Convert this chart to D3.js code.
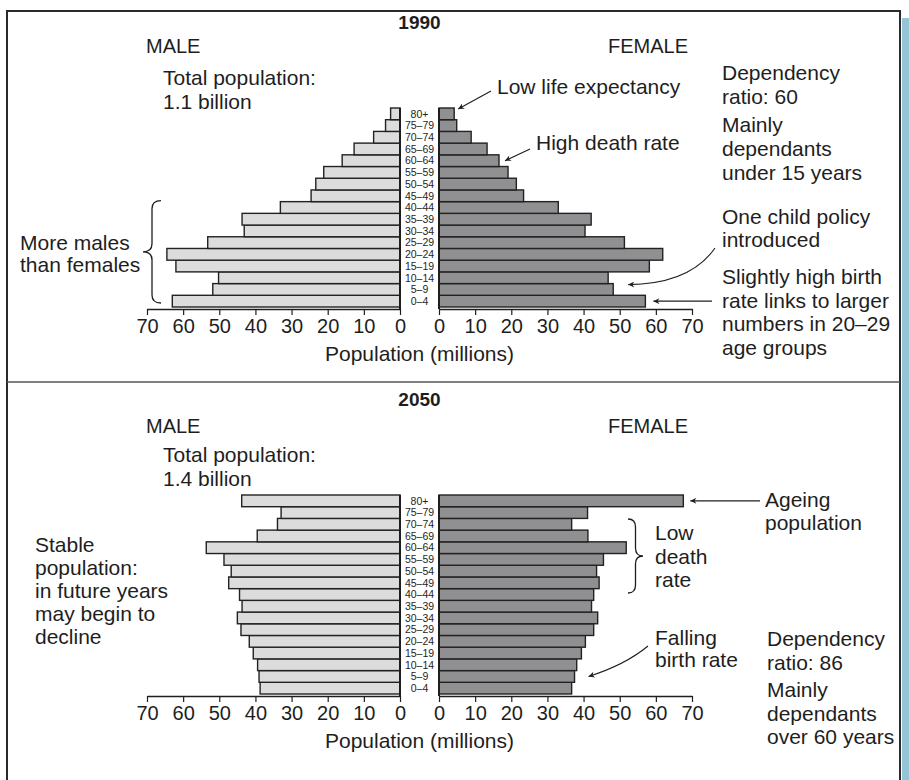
<!DOCTYPE html>
<html>
<head>
<meta charset="utf-8">
<script src="https://d3js.org/d3.v7.min.js"></script>
<style>
  body { margin: 0; background: #fff; }
  text { font-family: "Liberation Sans", Arial, Helvetica, sans-serif; fill: #1e1e1e; }
</style>
</head>
<body>
<div id="chart"></div>
<script>
// values, millions, youngest group first
var ages = ["0–4", "5–9", "10–14", "15–19", "20–24", "25–29", "30–34", "35–39", "40–44",
  "45–49", "50–54", "55–59", "60–64", "65–69", "70–74", "75–79", "80+"];
var male1990 = [63.0, 51.8, 50.2, 62.0, 64.5, 53.2, 43.1, 43.7, 33.1, 24.6, 23.3, 21.1, 16.0, 12.7, 7.3, 4.0, 2.6];
var female1990 = [57.1, 48.2, 46.8, 58.2, 61.9, 51.3, 40.4, 42.1, 33.0, 23.4, 21.4, 19.1, 16.6, 13.3, 8.9, 4.9, 4.2];
var male2050 = [38.7, 39.0, 39.4, 40.6, 41.7, 44.0, 45.0, 43.7, 44.4, 47.4, 46.7, 48.7, 53.6, 39.5, 33.9, 32.9, 43.8];
var female2050 = [36.7, 37.5, 38.1, 39.4, 40.5, 42.8, 43.9, 42.2, 42.8, 44.3, 43.6, 45.5, 51.8, 41.2, 36.7, 41.1, 67.6];
var tickValues = [0, 10, 20, 30, 40, 50, 60, 70];

var svgWidth = 909;
var svgHeight = 780;

var svg = d3.select("#chart")
  .append("svg")
  .attr("width", svgWidth)
  .attr("height", svgHeight);

// arrow head
svg.append("defs").append("marker")
  .attr("id", "arrow")
  .attr("viewBox", "0 0 10 10")
  .attr("refX", 10)
  .attr("refY", 5)
  .attr("markerUnits", "userSpaceOnUse")
  .attr("markerWidth", 10)
  .attr("markerHeight", 6)
  .attr("orient", "auto")
  .append("path")
  .attr("d", "M0,0 L10,5 L0,10 L3,5 Z")
  .attr("fill", "#1e1e1e");

// frame
svg.append("rect")
  .attr("x", 902).attr("y", 18)
  .attr("width", 7).attr("height", 762)
  .attr("fill", "#94c4d6");
svg.append("path")
  .attr("d", "M7,782 L7,11 L900,11 L900,782")
  .attr("fill", "none")
  .attr("stroke", "#2a2a2a")
  .attr("stroke-width", 2);
svg.append("line")
  .attr("x1", 7).attr("x2", 900)
  .attr("y1", 382).attr("y2", 382)
  .attr("stroke", "#555")
  .attr("stroke-width", 1.5);

var xMale = d3.scaleLinear().domain([0, 70]).range([400, 147]);
var xFemale = d3.scaleLinear().domain([0, 70]).range([439, 692]);

function drawPyramid(top, males, females) {
  var g = svg.append("g");
  var y = d3.scaleBand()
    .domain(ages.slice().reverse())
    .range([top, top + 199])
    .padding(0);
  var axisY = top + 201;

  g.selectAll(".male")
    .data(males)
    .enter()
    .append("rect")
    .attr("x", d => xMale(d))
    .attr("y", (d, i) => y(ages[i]))
    .attr("width", d => xMale(0) - xMale(d))
    .attr("height", y.bandwidth())
    .attr("fill", "#dcdcdc")
    .attr("stroke", "#222")
    .attr("stroke-width", 1.4);

  g.selectAll(".female")
    .data(females)
    .enter()
    .append("rect")
    .attr("x", xFemale(0))
    .attr("y", (d, i) => y(ages[i]))
    .attr("width", d => xFemale(d) - xFemale(0))
    .attr("height", y.bandwidth())
    .attr("fill", "#909092")
    .attr("stroke", "#222")
    .attr("stroke-width", 1.4);

  // zero lines
  [xMale(0), xFemale(0)].forEach(function(x) {
    g.append("line")
      .attr("x1", x).attr("x2", x)
      .attr("y1", top).attr("y2", axisY)
      .attr("stroke", "#1e1e1e")
      .attr("stroke-width", 2);
  });

  // age labels
  g.selectAll(".age")
    .data(ages)
    .enter()
    .append("text")
    .attr("x", 419.5)
    .attr("y", d => y(d) + y.bandwidth() / 2)
    .attr("dy", "0.36em")
    .attr("text-anchor", "middle")
    .style("font-size", "10.5px")
    .text(d => d);

  // axes
  [xMale, xFemale].forEach(function(scale) {
    var ax = g.append("g")
      .attr("transform", `translate(0, ${axisY})`)
      .call(d3.axisBottom(scale).tickValues(tickValues).tickSize(6).tickSizeOuter(0));
    ax.select(".domain").attr("stroke", "#1e1e1e").attr("stroke-width", 1.6);
    ax.selectAll(".tick line").attr("stroke", "#1e1e1e").attr("stroke-width", 1.2);
    ax.selectAll(".tick text")
      .attr("y", 24)
      .attr("dy", 0)
      .style("font-size", "20px")
      .style("font-family", "'Liberation Sans', Arial, sans-serif")
      .attr("fill", "#1e1e1e");
  });

  g.append("text")
    .attr("x", 419.5)
    .attr("y", axisY + 52)
    .attr("text-anchor", "middle")
    .style("font-size", "21px")
    .text("Population (millions)");

  return y;
}

var yTop = drawPyramid(108, male1990, female1990);
var yBot = drawPyramid(495, male2050, female2050);

// text block: x, first baseline, lines, line gap, size, weight, anchor
function label(x, y0, lines, gap, size, weight, anchor) {
  var t = svg.append("text")
    .attr("x", x)
    .attr("y", y0)
    .attr("text-anchor", anchor || "start")
    .style("font-size", size + "px")
    .style("font-weight", weight || "normal");
  lines.forEach(function(l, i) {
    t.append("tspan").attr("x", x).attr("y", y0 + i * gap).text(l);
  });
}

// 1990 panel
label(419.5, 29, ["1990"], 0, 19, "bold", "middle");
label(146, 53, ["MALE"], 0, 20);
label(608, 53, ["FEMALE"], 0, 20);
label(163, 85, ["Total population:", "1.1 billion"], 24, 21);
label(497, 94, ["Low life expectancy"], 0, 21);
label(536, 150, ["High death rate"], 0, 21);
label(722, 80, ["Dependency", "ratio: 60"], 24, 21);
label(722, 132, ["Mainly", "dependants", "under 15 years"], 24, 21);
label(722, 224, ["One child policy", "introduced"], 23, 21);
label(722, 284, ["Slightly high birth", "rate links to larger", "numbers in 20–29", "age groups"], 23.5, 21);
label(20, 250, ["More males", "than females"], 22, 21);

// 2050 panel
label(419.5, 406, ["2050"], 0, 19, "bold", "middle");
label(146, 433, ["MALE"], 0, 20);
label(608, 433, ["FEMALE"], 0, 20);
label(163, 462, ["Total population:", "1.4 billion"], 24, 21);
label(765, 507, ["Ageing", "population"], 23, 21);
label(655, 540, ["Low", "death", "rate"], 23.5, 21);
label(35, 552, ["Stable", "population:", "in future years", "may begin to", "decline"], 23, 21);
label(655, 645, ["Falling", "birth rate"], 22, 21);
label(767, 646, ["Dependency", "ratio: 86"], 23.5, 21);
label(767, 697, ["Mainly", "dependants", "over 60 years"], 23.5, 21);

// arrows
function arrow(d) {
  svg.append("path")
    .attr("d", d)
    .attr("fill", "none")
    .attr("stroke", "#1e1e1e")
    .attr("stroke-width", 1.1)
    .attr("marker-end", "url(#arrow)");
}
var rowMid = (y, a) => y(a) + y.bandwidth() / 2;
arrow(`M491,91 L${xFemale(female1990[16]) + 4},${yTop("80+") + 1}`);
arrow(`M530,149 L${xFemale(female1990[12]) + 6},${rowMid(yTop, "60–64")}`);
arrow(`M715,248 Q690,284 ${xFemale(female1990[1]) + 15},${yTop("5–9") + 1}`);
arrow(`M712,${rowMid(yTop, "0–4")} L${xFemale(female1990[0]) + 8},${rowMid(yTop, "0–4")}`);
arrow(`M760,${rowMid(yBot, "80+")} L${xFemale(female2050[16]) + 7},${rowMid(yBot, "80+")}`);
arrow(`M648,646 Q625,665 ${xFemale(female2050[1]) + 14},${rowMid(yBot, "5–9")}`);

// braces
function brace(xe, y1, y2, w) {
  var xm = xe + w / 2, xt = xe + w, ym = (y1 + y2) / 2, r = 8;
  svg.append("path")
    .attr("d", `M${xe},${y1} Q${xm},${y1} ${xm},${y1 + r} L${xm},${ym - r} Q${xm},${ym} ${xt},${ym}` +
      ` Q${xm},${ym} ${xm},${ym + r} L${xm},${y2 - r} Q${xm},${y2} ${xe},${y2}`)
    .attr("fill", "none")
    .attr("stroke", "#1e1e1e")
    .attr("stroke-width", 1.3);
}
brace(161, yTop("40–44") - 1, yTop("0–4") + yTop.bandwidth() - 4, -18);
brace(628, 519, 593, 15);
</script>
</body>
</html>
